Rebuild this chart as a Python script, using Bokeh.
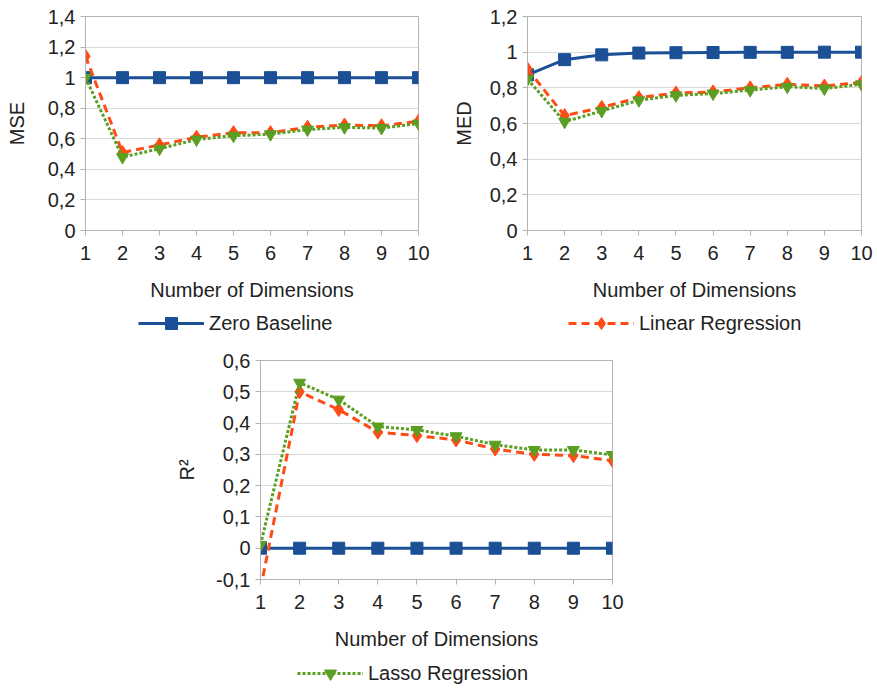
from bokeh.plotting import figure
from bokeh.models import Range1d, FixedTicker, Legend, LegendItem, Spacer
from bokeh.layouts import column, row
from bokeh.embed import file_html
from bokeh.resources import INLINE

dims = [1, 2, 3, 4, 5, 6, 7, 8, 9, 10]

mse_zero = [1.0, 1.0, 1.0, 1.0, 1.0, 1.0, 1.0, 1.0, 1.0, 1.0]
mse_linear = [1.14, 0.51, 0.56, 0.61, 0.64, 0.64, 0.675, 0.69, 0.685, 0.715]
mse_lasso = [1.0, 0.48, 0.535, 0.595, 0.62, 0.63, 0.66, 0.675, 0.67, 0.70]

med_zero = [0.873, 0.958, 0.985, 0.995, 0.997, 0.998, 0.999, 0.999, 1.0, 1.0]
med_linear = [0.905, 0.644, 0.69, 0.745, 0.771, 0.777, 0.80, 0.82, 0.81, 0.83]
med_lasso = [0.848, 0.61, 0.67, 0.73, 0.758, 0.768, 0.787, 0.806, 0.796, 0.82]

r2_zero = [0.0, 0.0, 0.0, 0.0, 0.0, 0.0, 0.0, 0.0, 0.0, 0.0]
r2_linear = [-0.13, 0.50, 0.443, 0.371, 0.36, 0.346, 0.317, 0.30, 0.296, 0.28]
r2_lasso = [0.011, 0.529, 0.475, 0.389, 0.378, 0.358, 0.331, 0.314, 0.314, 0.298]

mse_ticks = [0, 0.2, 0.4, 0.6, 0.8, 1, 1.2, 1.4]
mse_labels = ["0", "0,2", "0,4", "0,6", "0,8", "1", "1,2", "1,4"]
med_ticks = [0, 0.2, 0.4, 0.6, 0.8, 1, 1.2]
med_labels = ["0", "0,2", "0,4", "0,6", "0,8", "1", "1,2"]
r2_ticks = [-0.1, 0, 0.1, 0.2, 0.3, 0.4, 0.5, 0.6]
r2_labels = ["-0,1", "0", "0,1", "0,2", "0,3", "0,4", "0,5", "0,6"]

series_names = ["Zero Baseline", "Linear Regression", "Lasso Regression"]

BLUE = "#1b4f96"
RED = "#ff4b16"
GREEN = "#5a9e22"
TXT = "#222222"
FONT = "Liberation Sans"
AXC = "#b3b3b3"
GRIDC = "#d9d9d9"

STYLES = [
    dict(line=dict(line_color=BLUE, line_width=3),
         mark=dict(marker="square", size=12, fill_color=BLUE, line_color=BLUE)),
    dict(line=dict(line_color=RED, line_width=3, line_dash="8 5"),
         mark=dict(marker="diamond", size=14, fill_color=RED, line_color=RED)),
    dict(line=dict(line_color=GREEN, line_width=3, line_dash="3 2"),
         mark=dict(marker="inverted_triangle", size=12, fill_color=GREEN, line_color=GREEN)),
]


def make_fig(ytitle, yr, ticks, labels, series, fw, fh, left, right, top, bottom, ylab_standoff):
    p = figure(frame_width=fw, frame_height=fh,
               x_range=Range1d(1, 10), y_range=Range1d(*yr),
               output_backend="svg", toolbar_location=None,
               min_border_left=left, min_border_right=right,
               min_border_top=top, min_border_bottom=bottom)
    p.background_fill_color = "white"
    p.border_fill_color = "white"
    p.outline_line_color = AXC
    p.outline_line_width = 1

    p.xaxis.ticker = FixedTicker(ticks=dims)
    p.yaxis.ticker = FixedTicker(ticks=ticks)
    p.yaxis.major_label_overrides = {t: l for t, l in zip(ticks, labels)}
    p.xgrid.grid_line_color = None
    p.ygrid.grid_line_color = GRIDC
    p.ygrid.grid_line_width = 1

    for ax in (p.xaxis[0], p.yaxis[0]):
        ax.axis_line_color = AXC
        ax.major_tick_line_color = AXC
        ax.major_tick_in = 0
        ax.major_tick_out = 5
        ax.minor_tick_line_color = None
        ax.major_label_text_font = FONT
        ax.major_label_text_font_size = "20px"
        ax.major_label_text_color = TXT
        ax.axis_label_text_font = FONT
        ax.axis_label_text_font_size = "20px"
        ax.axis_label_text_font_style = "normal"
        ax.axis_label_text_color = TXT
    p.xaxis.major_label_standoff = 10
    p.yaxis.major_label_standoff = 5
    p.xaxis.axis_label = "Number of Dimensions"
    p.xaxis.axis_label_standoff = 16
    p.yaxis.axis_label = ytitle
    p.yaxis.axis_label_standoff = ylab_standoff

    for vals, st in zip(series, STYLES):
        p.line(dims, vals, **st["line"])
        p.scatter(dims, vals, **st["mark"])
    return p


def make_legend_strip(width, height, entries):
    # The strip's x range lies far from the data, so only the legend samples are visible.
    q = figure(width=width, height=height, x_range=Range1d(100, 101), y_range=Range1d(100, 101),
               x_axis_type=None, y_axis_type=None, output_backend="svg",
               toolbar_location=None, min_border=0)
    q.outline_line_color = None
    q.grid.grid_line_color = None
    q.background_fill_color = "white"
    q.border_fill_color = "white"
    for idx, vals, xpos in entries:
        st = STYLES[idx]
        lr = q.line(dims, vals, **st["line"])
        sr = q.scatter(dims, vals, **st["mark"])
        leg = Legend(items=[LegendItem(label=series_names[idx], renderers=[lr, sr])],
                     location=(xpos, 0))
        leg.background_fill_alpha = 0
        leg.border_line_alpha = 0
        leg.padding = 0
        leg.margin = 0
        leg.spacing = 0
        leg.glyph_width = 66
        leg.glyph_height = 30
        leg.label_standoff = 5
        leg.label_height = 20
        leg.label_text_font = FONT
        leg.label_text_font_size = "20px"
        leg.label_text_color = TXT
        q.add_layout(leg)
    return q


p1 = make_fig("MSE", (0, 1.4), mse_ticks, mse_labels, [mse_zero, mse_linear, mse_lasso],
              333, 214, 85, 20, 15, 79, 17)
p2 = make_fig("MED", (0, 1.2), med_ticks, med_labels, [med_zero, med_linear, med_lasso],
              334, 214, 80, 14, 16, 78, 12)
p3 = make_fig("R²", (-0.1, 0.6), r2_ticks, r2_labels, [r2_zero, r2_linear, r2_lasso],
              352, 219, 90, 12, 22, 79, 15)

leg_top = make_legend_strip(875, 30, [(0, mse_zero, 138), (1, mse_linear, 568)])
leg_bottom = make_legend_strip(875, 30, [(2, r2_lasso, 297)])

layout = column(row(p1, Spacer(width=9), p2), leg_top,
                row(Spacer(width=170), p3), leg_bottom)

open("out.html", "w").write(file_html(layout, INLINE))
